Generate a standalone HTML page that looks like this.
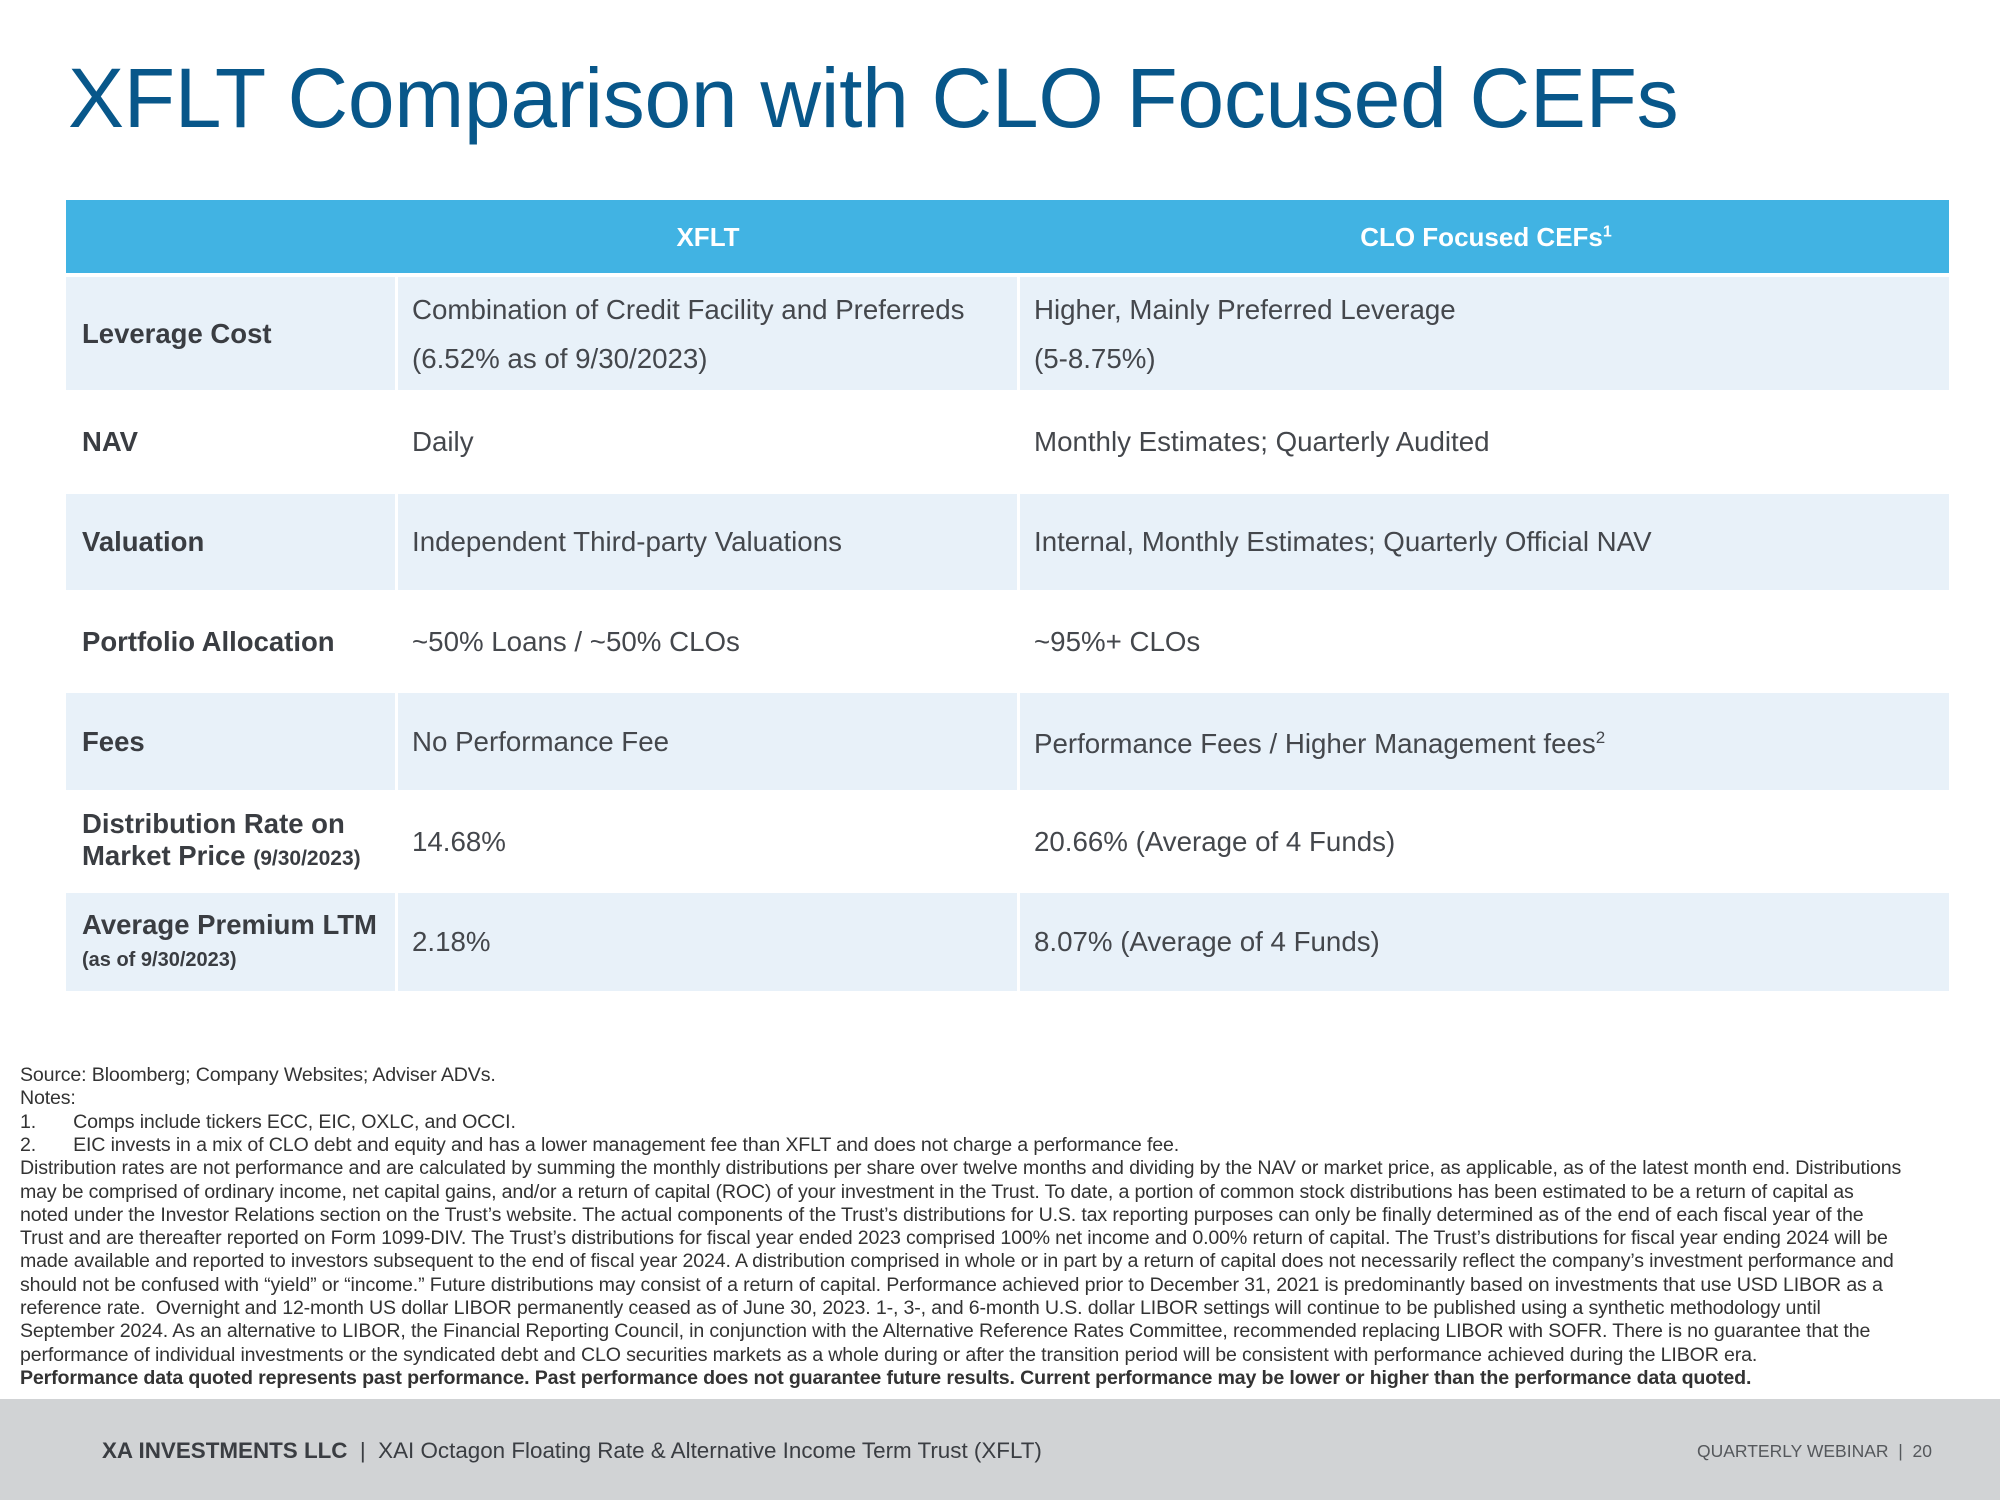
<!DOCTYPE html>
<html><head><meta charset="utf-8">
<style>
*{margin:0;padding:0;box-sizing:border-box}
body{width:2000px;height:1500px;background:#fff;position:relative;overflow:hidden;font-family:"Liberation Sans",Arial,sans-serif}
.a{position:absolute;white-space:nowrap}
#title{left:68px;top:50px;font-size:84px;color:#08578a;letter-spacing:-0.3px}
.hdr{position:absolute;left:66px;top:200px;width:1883px;height:73px;background:#41b3e3}
.ht{position:absolute;top:222px;color:#fff;font-weight:bold;font-size:26px;transform:translateX(-50%)}
.cell{position:absolute;}
.lb{font-weight:bold;color:#3a3d42;font-size:27.5px}
.tx{color:#44474c;font-size:27.7px}
.fn{position:absolute;left:20px;font-size:19.6px;color:#333;white-space:nowrap;letter-spacing:-0.15px}
#footer{position:absolute;left:0;top:1399px;width:2000px;height:101px;background:#d1d3d5}
</style></head><body>
<div class="a" id="title">XFLT Comparison with CLO Focused CEFs</div>

<div>
<div class="hdr"></div>
<div class="ht" style="left:708px">XFLT</div>
<div class="ht" style="left:1486px">CLO Focused CEFs<sup style="font-size:16px">1</sup></div>
</div>

<div id="rows"></div>

<div id="notes"></div>

<div id="footer"></div>
<div class="a" style="left:102px;top:1438px;font-size:22.4px;color:#3a3d42"><b>XA INVESTMENTS LLC</b> &nbsp;|&nbsp; XAI Octagon Floating Rate &amp; Alternative Income Term Trust (XFLT)</div>
<div class="a" style="right:68px;top:1441px;font-size:17.5px;color:#55585c">QUARTERLY WEBINAR &nbsp;|&nbsp; 20</div>

<script>
const rows=[
 ["Leverage Cost","Combination of Credit Facility and Preferreds<br>(6.52% as of 9/30/2023)","Higher, Mainly Preferred Leverage<br>(5-8.75%)",277,393,true],
 ["NAV","Daily","Monthly Estimates; Quarterly Audited",393,494,false],
 ["Valuation","Independent Third-party Valuations","Internal, Monthly Estimates; Quarterly Official NAV",494,593,true],
 ["Portfolio Allocation","~50% Loans / ~50% CLOs","~95%+ CLOs",593,693,false],
 ["Fees","No Performance Fee","Performance Fees / Higher Management fees<sup style='font-size:17px'>2</sup>",693,793,true],
 ["Distribution Rate on<br>Market Price <span style='font-size:21px'>(9/30/2023)</span>","14.68%","20.66% (Average of 4 Funds)",793,893,false],
 ["Average Premium LTM<br><span style='font-size:20px'>(as of 9/30/2023)</span>","2.18%","8.07% (Average of 4 Funds)",893,994,true]
];
const cols=[[66,395],[398,1017],[1020,1949]];
const R=document.getElementById('rows');
rows.forEach((r,i)=>{
 for(let c=0;c<3;c++){
  const d=document.createElement('div');
  
  
  d.className='cell '+(c==0?'lb':'tx');
  d.style.left=cols[c][0]+'px';d.style.width=(cols[c][1]-cols[c][0])+'px';
  d.style.top=r[3]+'px';d.style.height=(r[4]-r[3]-3)+'px';
  d.style.background=r[5]?'#e8f1f9':'#fff';
  d.style.display='flex';d.style.alignItems='center';
  d.style.paddingLeft=(c==0?16:14)+'px';
  d.style.lineHeight=(i==0&&c>0)?'49px':'32px';
  d.innerHTML='<div>'+r[c]+'</div>';
  R.appendChild(d);
 }
});
const notes=[
"Source: Bloomberg; Company Websites; Adviser ADVs.",
"Notes:",
"1.&nbsp;&nbsp;&nbsp;&nbsp;&nbsp;&nbsp;&nbsp;Comps include tickers ECC, EIC, OXLC, and OCCI.",
"2.&nbsp;&nbsp;&nbsp;&nbsp;&nbsp;&nbsp;&nbsp;EIC invests in a mix of CLO debt and equity and has a lower management fee than XFLT and does not charge a performance fee.",
"Distribution rates are not performance and are calculated by summing the monthly distributions per share over twelve months and dividing by the NAV or market price, as applicable, as of the latest month end. Distributions",
"may be comprised of ordinary income, net capital gains, and/or a return of capital (ROC) of your investment in the Trust. To date, a portion of common stock distributions has been estimated to be a return of capital as",
"noted under the Investor Relations section on the Trust’s website. The actual components of the Trust’s distributions for U.S. tax reporting purposes can only be finally determined as of the end of each fiscal year of the",
"Trust and are thereafter reported on Form 1099-DIV. The Trust’s distributions for fiscal year ended 2023 comprised 100% net income and 0.00% return of capital. The Trust’s distributions for fiscal year ending 2024 will be",
"made available and reported to investors subsequent to the end of fiscal year 2024. A distribution comprised in whole or in part by a return of capital does not necessarily reflect the company’s investment performance and",
"should not be confused with “yield” or “income.” Future distributions may consist of a return of capital. Performance achieved prior to December 31, 2021 is predominantly based on investments that use USD LIBOR as a",
"reference rate.&nbsp; Overnight and 12-month US dollar LIBOR permanently ceased as of June 30, 2023. 1-, 3-, and 6-month U.S. dollar LIBOR settings will continue to be published using a synthetic methodology until",
"September 2024. As an alternative to LIBOR, the Financial Reporting Council, in conjunction with the Alternative Reference Rates Committee, recommended replacing LIBOR with SOFR. There is no guarantee that the",
"performance of individual investments or the syndicated debt and CLO securities markets as a whole during or after the transition period will be consistent with performance achieved during the LIBOR era.",
"<b>Performance data quoted represents past performance. Past performance does not guarantee future results. Current performance may be lower or higher than the performance data quoted.</b>"
];
const N=document.getElementById('notes');
notes.forEach((t,i)=>{
 const d=document.createElement('div');
 
 
 d.className='fn';d.style.top=(1064+i*23.3)+'px';d.innerHTML=t;N.appendChild(d);
});
</script>
</body></html>
